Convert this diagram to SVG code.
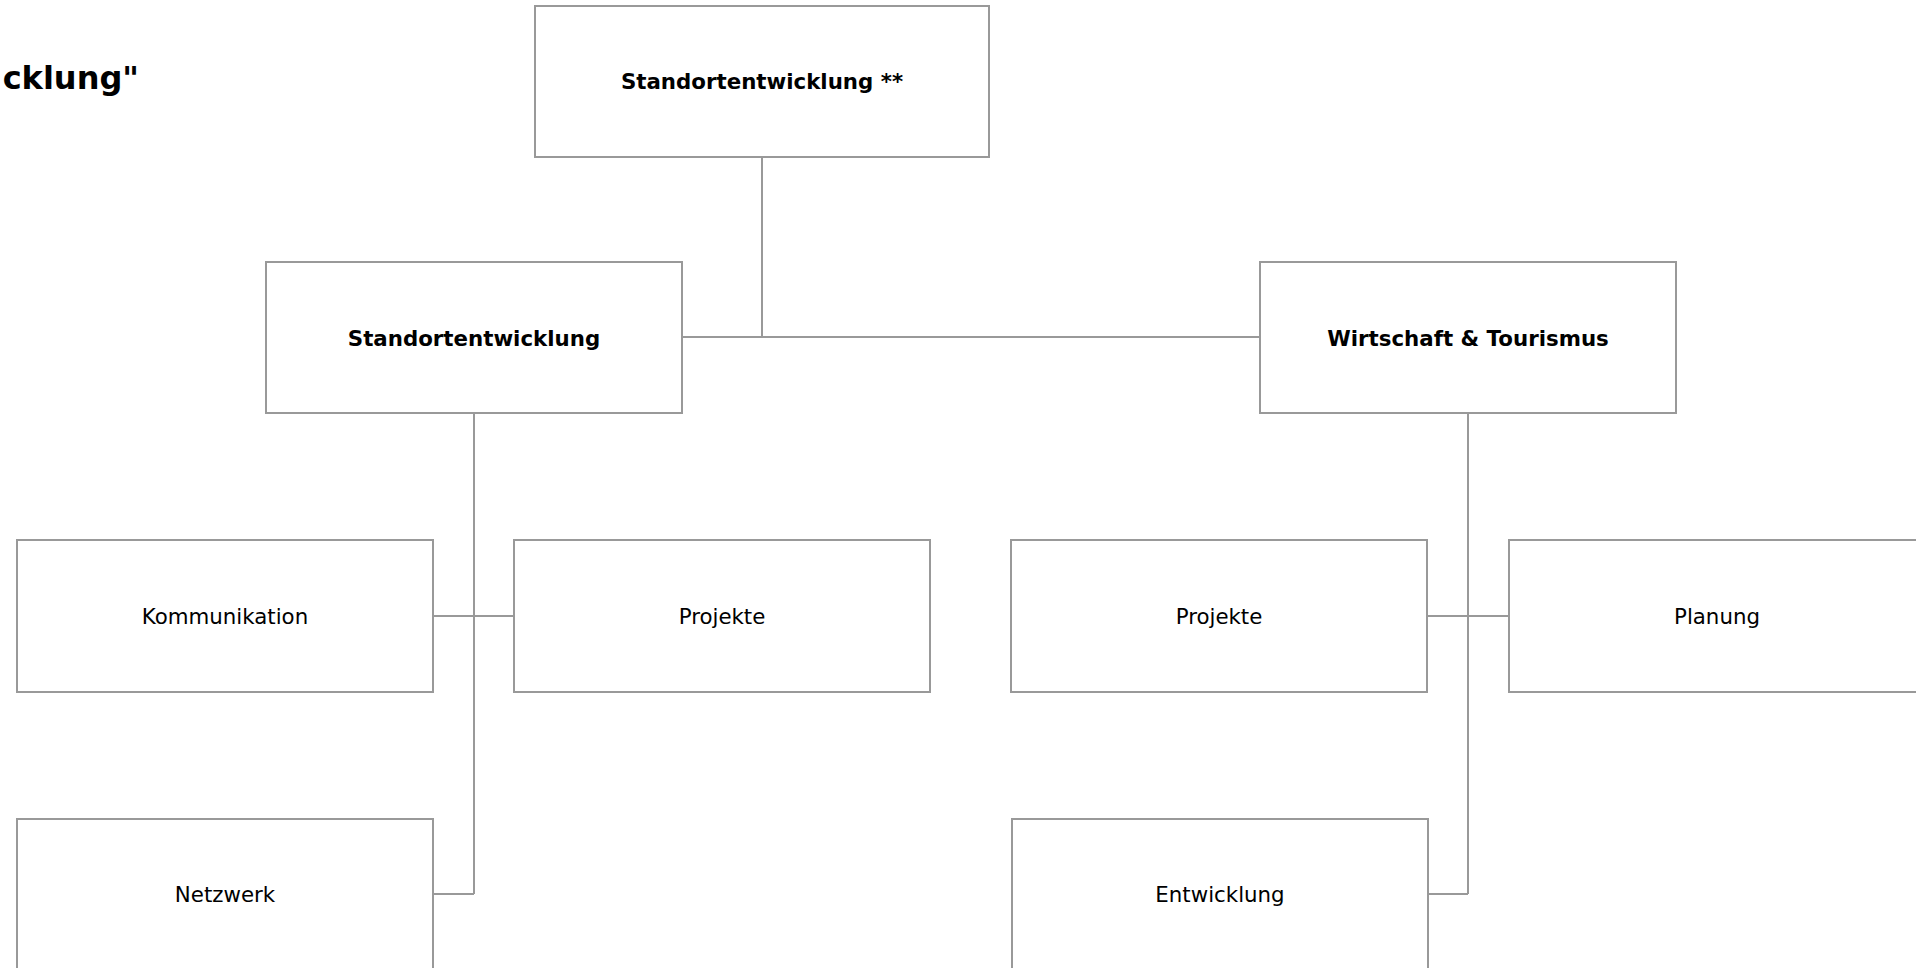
<svg xmlns="http://www.w3.org/2000/svg" width="1916" height="968" viewBox="0 0 1916 968">
<style>
.box{fill:#ffffff;stroke:#999999;stroke-width:2}
.conn{fill:none;stroke:#999999;stroke-width:2}
.t{font-family:"DejaVu Sans","Liberation Sans",sans-serif;font-size:21.33px;fill:#000000;text-anchor:middle}
.b{font-weight:bold}
.title{font-family:"DejaVu Sans","Liberation Sans",sans-serif;font-size:32px;font-weight:bold;fill:#000000;text-anchor:end}
</style>
<rect x="0" y="0" width="1916" height="968" fill="#ffffff"/>
<text class="title" x="139" y="89">cklung"</text>
<g id="connectors">
<path class="conn" d="M762 157 V337 M682 337 H1260"/>
<path class="conn" d="M474 413 V894 M433 616 H514 M433 894 H474"/>
<path class="conn" d="M1468 413 V894 M1427 616 H1509 M1427 894 H1468"/>
</g>
<g id="n-root">
<rect class="box" x="535" y="6" width="454" height="151"/>
<text class="t b" x="762" y="89.3">Standortentwicklung **</text>
</g>
<g id="n-standort">
<rect class="box" x="266" y="262" width="416" height="151"/>
<text class="t b" x="474" y="345.5">Standortentwicklung</text>
</g>
<g id="n-wirtschaft">
<rect class="box" x="1260" y="262" width="416" height="151"/>
<text class="t b" x="1468" y="345.5">Wirtschaft &amp; Tourismus</text>
</g>
<g id="n-kommunikation">
<rect class="box" x="17" y="540" width="416" height="152"/>
<text class="t" x="225" y="623.5">Kommunikation</text>
</g>
<g id="n-projekte-1">
<rect class="box" x="514" y="540" width="416" height="152"/>
<text class="t" x="722" y="623.5">Projekte</text>
</g>
<g id="n-projekte-2">
<rect class="box" x="1011" y="540" width="416" height="152"/>
<text class="t" x="1219" y="623.5">Projekte</text>
</g>
<g id="n-planung">
<rect class="box" x="1509" y="540" width="416" height="152"/>
<text class="t" x="1717" y="623.5">Planung</text>
</g>
<g id="n-netzwerk">
<rect class="box" x="17" y="819" width="416" height="152"/>
<text class="t" x="225" y="902">Netzwerk</text>
</g>
<g id="n-entwicklung">
<rect class="box" x="1012" y="819" width="416" height="152"/>
<text class="t" x="1220" y="902">Entwicklung</text>
</g>
</svg>
